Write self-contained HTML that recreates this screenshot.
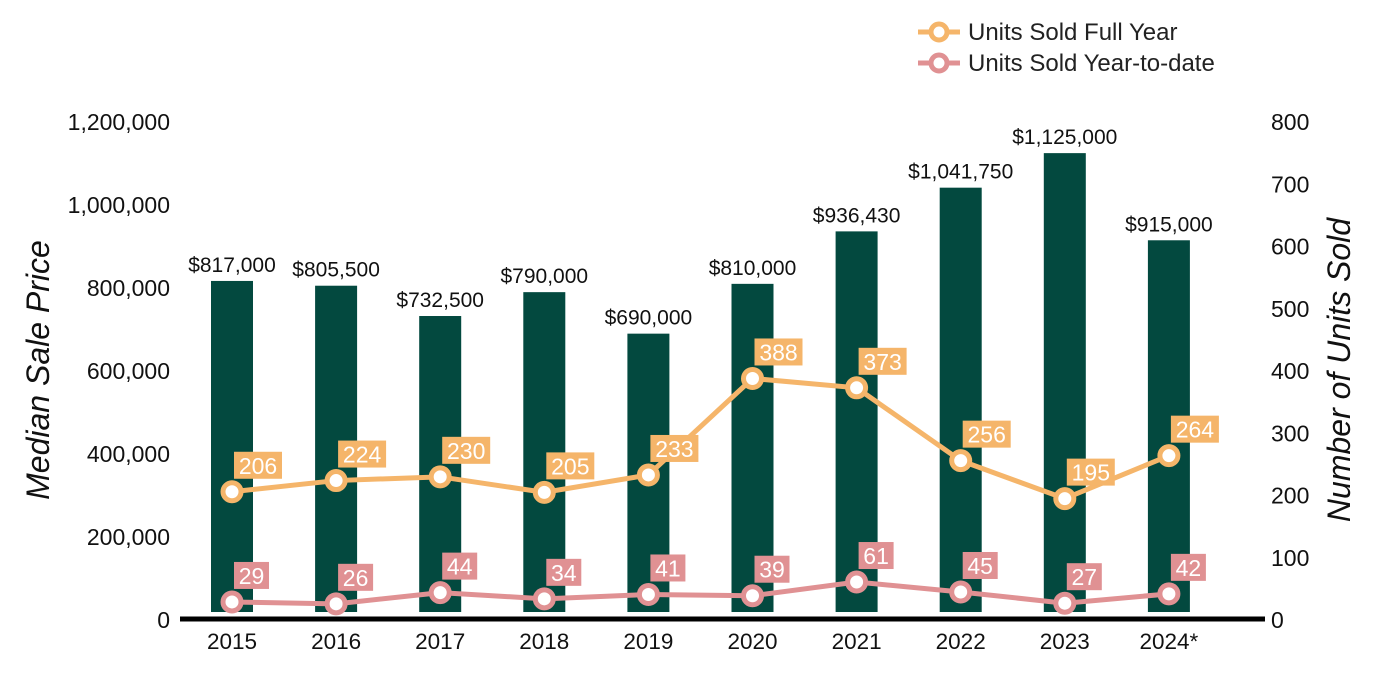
<!DOCTYPE html>
<html><head><meta charset="utf-8"><style>
body{margin:0;background:#fff}
svg{display:block;font-family:"Liberation Sans",Arial,sans-serif}
</style></head><body>
<svg id="chart" width="1400" height="700">
<g id="legend">
 <g>
  <line x1="918" y1="32" x2="960" y2="32" stroke="#f5b56a" stroke-width="5"/>
  <circle cx="939" cy="32" r="8" fill="#fff" stroke="#f5b56a" stroke-width="5"/>
  <text x="968" y="40" font-size="24" fill="#222">Units Sold Full Year</text>
 </g>
 <g>
  <line x1="918" y1="63" x2="960" y2="63" stroke="#e09193" stroke-width="5"/>
  <circle cx="939" cy="63" r="8" fill="#fff" stroke="#e09193" stroke-width="5"/>
  <text x="968" y="71" font-size="24" fill="#222">Units Sold Year-to-date</text>
 </g>
</g>
<text transform="translate(49,370) rotate(-90)" text-anchor="middle" font-size="32" font-style="italic" fill="#111">Median Sale Price</text>
<text transform="translate(1350,370) rotate(-90)" text-anchor="middle" font-size="32" font-style="italic" fill="#111">Number of Units Sold</text>
<g id="bars"></g><g id="axes"></g><g id="lines"></g>
</svg>
<script>
const categories=["2015","2016","2017","2018","2019","2020","2021","2022","2023","2024*"];
const prices=[817000,805500,732500,790000,690000,810000,936430,1041750,1125000,915000];
const priceLabels=["$817,000","$805,500","$732,500","$790,000","$690,000","$810,000","$936,430","$1,041,750","$1,125,000","$915,000"];
const fullYear=[206,224,230,205,233,388,373,256,195,264];
const ytd=[29,26,44,34,41,39,61,45,27,42];
const leftTicks=[0,200000,400000,600000,800000,1000000,1200000];
const rightTicks=[0,100,200,300,400,500,600,700,800];
const NS="http://www.w3.org/2000/svg";
const x=i=>232+i*104.1;
const yL=v=>620-v/1200000*498;
const yR=v=>620-v/800*498;
function mk(p,t,a){const e=document.createElementNS(NS,t);for(const k in a)e.setAttribute(k,a[k]);p.appendChild(e);return e;}
const bars=document.getElementById('bars'),axes=document.getElementById('axes'),lines=document.getElementById('lines');
prices.forEach((v,i)=>{
 const r=mk(bars,'rect',{x:x(i)-21,y:yL(v),width:42,height:612-yL(v),fill:'#03493f'});
 
 
 const t=mk(bars,'text',{x:x(i),y:yL(v)-9,'text-anchor':'middle','font-size':21,fill:'#111'});t.textContent=priceLabels[i];
 
 
});
const base=mk(axes,'line',{x1:180,y1:619,x2:1265,y2:619,stroke:'#000','stroke-width':5});


categories.forEach((c,i)=>{const t=mk(axes,'text',{x:x(i),y:649,'text-anchor':'middle','font-size':22.5,fill:'#111'});t.textContent=c;
 
 });
leftTicks.forEach(v=>{const t=mk(axes,'text',{x:170,y:yL(v)+8,'text-anchor':'end','font-size':23,fill:'#111'});t.textContent=v.toLocaleString('en-US');
 
 });
rightTicks.forEach(v=>{const t=mk(axes,'text',{x:1271,y:yR(v)+8,'font-size':23,fill:'#111'});t.textContent=v;
 
 });
function series(data,color,name){
 const pl=mk(lines,'polyline',{points:data.map((v,i)=>x(i)+','+yR(v)).join(' '),fill:'none',stroke:color,'stroke-width':5});
 
 
 data.forEach((v,i)=>{
  const c=mk(lines,'circle',{cx:x(i),cy:yR(v),r:9,fill:'#fff',stroke:color,'stroke-width':5});
  
  
  const s=String(v),w=s.length*13+9;
  const b=mk(lines,'rect',{x:x(i)+2,y:yR(v)-40,width:w,height:27,fill:color});
  
  
  const t=mk(lines,'text',{x:x(i)+2+w/2,y:yR(v)-18,'text-anchor':'middle','font-size':23,fill:'#fff'});t.textContent=s;
  
  
 });
}
series(fullYear,'#f5b56a','full-year');
series(ytd,'#e09193','ytd');
</script>
</body></html>
